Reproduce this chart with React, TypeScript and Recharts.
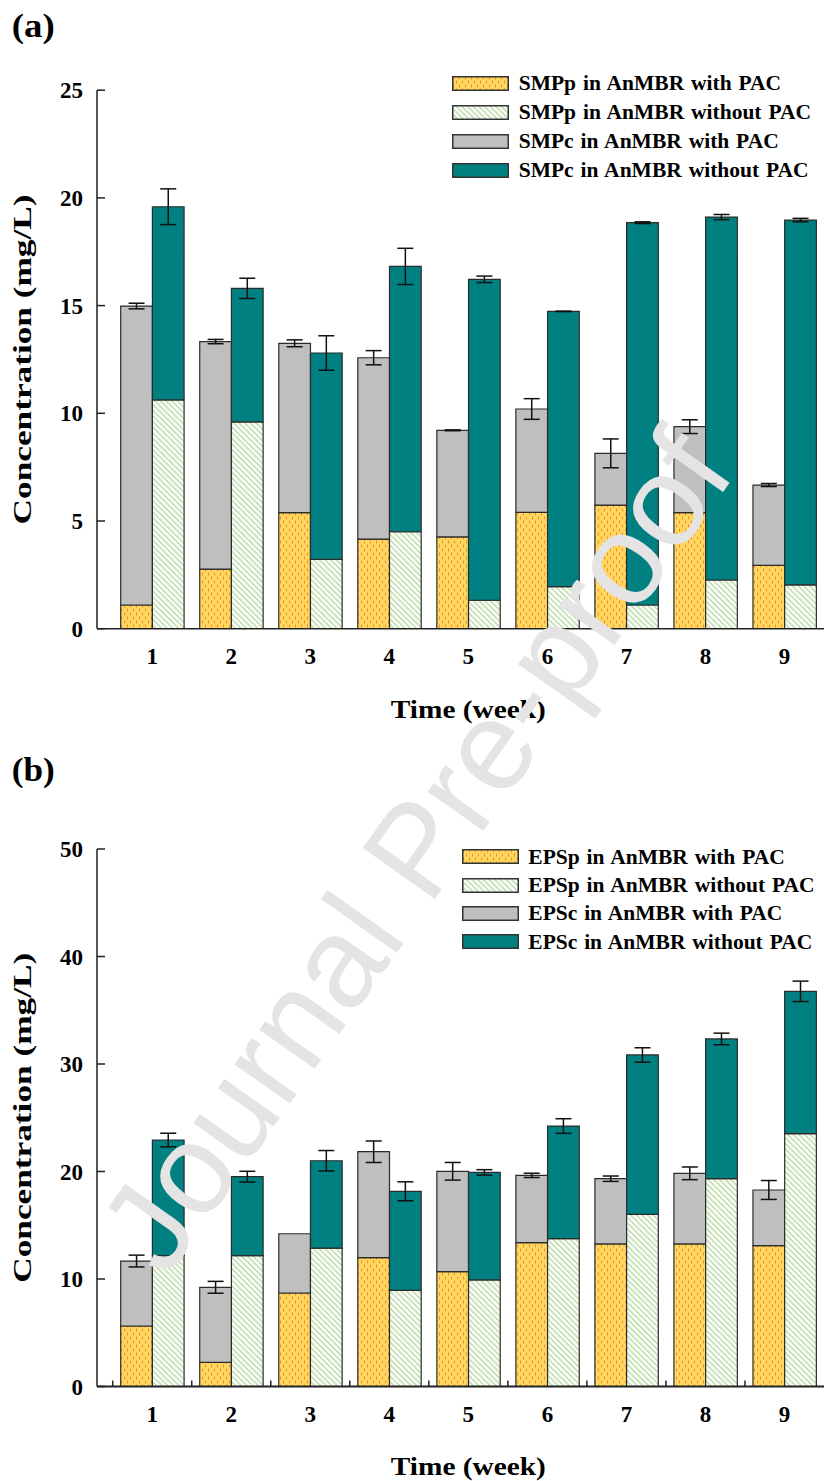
import React from 'react';
import { BarChart, Bar, XAxis, YAxis, ErrorBar, Legend, Label } from 'recharts';

const FONT = '"Liberation Serif", "Times New Roman", serif';

const weeks = ['1', '2', '3', '4', '5', '6', '7', '8', '9'];

// (a) SMP, mg/L (stacked segment sizes)
const smpProteinWithPAC = [1.1, 2.77, 5.39, 4.16, 4.26, 5.4, 5.74, 5.39, 2.94];
const smpCarbWithPAC = [13.88, 10.56, 7.86, 8.42, 4.95, 4.8, 2.4, 3.99, 3.73];
const smpProteinWithoutPAC = [10.62, 9.6, 3.22, 4.5, 1.32, 1.95, 1.1, 2.26, 2.03];
const smpCarbWithoutPAC = [8.97, 6.2, 9.58, 12.32, 14.9, 12.78, 17.75, 16.85, 16.94];
const smpErrWithPAC = [0.13, 0.1, 0.16, 0.33, 0.02, 0.48, 0.67, 0.32, 0.07];
const smpErrWithoutPAC = [0.83, 0.47, 0.8, 0.84, 0.15, 0.01, 0.04, 0.12, 0.08];
const smpTicks = [0, 5, 10, 15, 20, 25];
const smpLegend = [
  'SMPp in AnMBR with PAC',
  'SMPp in AnMBR without PAC',
  'SMPc in AnMBR with PAC',
  'SMPc in AnMBR without PAC',
];

// (b) EPS, mg/L (stacked segment sizes)
const epsProteinWithPAC = [5.63, 2.25, 8.7, 11.98, 10.68, 13.38, 13.26, 13.26, 13.1];
const epsCarbWithPAC = [6.04, 6.98, 5.51, 9.86, 9.34, 6.26, 6.07, 6.57, 5.18];
const epsProteinWithoutPAC = [12.17, 12.17, 12.88, 8.95, 9.91, 13.75, 16.02, 19.33, 23.52];
const epsCarbWithoutPAC = [10.76, 7.35, 8.12, 9.21, 10.01, 10.48, 14.82, 13.0, 13.24];
const epsErrWithPAC = [0.55, 0.55, 0, 1.0, 0.82, 0.2, 0.25, 0.59, 0.88];
const epsErrWithoutPAC = [0.63, 0.5, 0.95, 0.88, 0.25, 0.68, 0.67, 0.54, 0.95];
const epsTicks = [0, 10, 20, 30, 40, 50];
const epsLegend = [
  'EPSp in AnMBR with PAC',
  'EPSp in AnMBR without PAC',
  'EPSc in AnMBR with PAC',
  'EPSc in AnMBR without PAC',
];

const xTitle = 'Time (week)';
const yTitle = 'Concentration (mg/L)';

const buildRows = (pW: number[], cW: number[], pWo: number[], cWo: number[], eW: number[], eWo: number[]) =>
  weeks.map((w, i) => ({
    week: w,
    pWith: pW[i],
    cWith: cW[i],
    pWithout: pWo[i],
    cWithout: cWo[i],
    errWith: eW[i],
    errWithout: eWo[i],
  }));

const smpData = buildRows(smpProteinWithPAC, smpCarbWithPAC, smpProteinWithoutPAC, smpCarbWithoutPAC, smpErrWithPAC, smpErrWithoutPAC);
const epsData = buildRows(epsProteinWithPAC, epsCarbWithPAC, epsProteinWithoutPAC, epsCarbWithoutPAC, epsErrWithPAC, epsErrWithoutPAC);

const FILL_P_WITH = 'url(#patOrange)';
const FILL_P_WITHOUT = 'url(#patGreen)';
const FILL_C_WITH = '#bfbfbf';
const FILL_C_WITHOUT = '#008080';
const legendFills = [FILL_P_WITH, FILL_P_WITHOUT, FILL_C_WITH, FILL_C_WITHOUT];

const CHART_W = 834;
const Y_AXIS_W = 97;
const RIGHT_MARGIN = 10;
const Y_TICK_MARGIN = 14;
const X_TICK_MARGIN = 35;
const X_PAD_LEFT = 15.7;
const HALF_BAND_FALLBACK = (CHART_W - RIGHT_MARGIN - Y_AXIS_W - X_PAD_LEFT) / weeks.length / 2;

const YTick = (props: any) => {
  const { x, y, payload } = props;
  const axisX = x + Y_TICK_MARGIN;
  return (
    <g>
      <line x1={axisX} x2={axisX + 8} y1={y} y2={y} stroke="#222" strokeWidth={1.5} />
      <text x={x} y={y} dy={8} textAnchor="end" fontFamily={FONT} fontWeight="bold" fontSize={23} fill="#000">
        {payload.value}
      </text>
    </g>
  );
};

const makeXTick = (showMarks: boolean) => (props: any) => {
  const { x, y, payload } = props;
  const axisY = y - X_TICK_MARGIN;
  const half = payload && typeof payload.offset === 'number' && payload.offset > 0 ? payload.offset : HALF_BAND_FALLBACK;
  return (
    <g>
      {showMarks ? (
        <line x1={x - half} x2={x - half} y1={axisY} y2={axisY - 6} stroke="#222" strokeWidth={1.5} />
      ) : null}
      <text x={x} y={y} textAnchor="middle" fontFamily={FONT} fontWeight="bold" fontSize={23} fill="#000">
        {payload.value}
      </text>
    </g>
  );
};

const renderXTitle = (props: any) => {
  const vb = props.viewBox || {};
  const cx = vb.x + X_PAD_LEFT + (vb.width - X_PAD_LEFT) / 2;
  const y = vb.y + 88.8;
  return (
    <text x={cx} y={y} textAnchor="middle" fontFamily={FONT} fontWeight="bold" fontSize={26} fill="#000"
      textLength={155} lengthAdjust="spacingAndGlyphs">
      {xTitle}
    </text>
  );
};

const renderYTitle = (props: any) => {
  const vb = props.viewBox || {};
  const cy = vb.y + vb.height / 2;
  const bx = 31;
  return (
    <text x={bx} y={cy} transform={`rotate(-90, ${bx}, ${cy})`} textAnchor="middle" fontFamily={FONT}
      fontWeight="bold" fontSize={26} fill="#000" textLength={330} lengthAdjust="spacingAndGlyphs">
      {yTitle}
    </text>
  );
};

const LegendBox = ({ labels, rowH, gap }: { labels: string[]; rowH: number; gap: number }) => (
  <div style={{ display: 'flex', flexDirection: 'column' }}>
    {labels.map((lab, i) => (
      <div key={lab} style={{ display: 'flex', alignItems: 'center', height: rowH }}>
        <svg width={57} height={15} style={{ display: 'block', flex: 'none' }}>
          <rect x={0.75} y={0.75} width={55.5} height={13.5} fill={legendFills[i]} stroke="#333" strokeWidth={1.5} />
        </svg>
        <span style={{ marginLeft: gap, fontFamily: FONT, fontWeight: 'bold', fontSize: 21.5, color: '#000', whiteSpace: 'nowrap', lineHeight: `${rowH}px`, wordSpacing: 1.5 }}>
          {lab}
        </span>
      </div>
    ))}
  </div>
);

type PanelProps = {
  data: any[];
  height: number;
  marginTop: number;
  marginBottom: number;
  yMax: number;
  ticks: number[];
  legendLabels: string[];
  legendTop: number;
  legendLeft: number;
  legendRowH: number;
  legendGap: number;
  xMarks: boolean;
  xAxisWidth: number;
};

const Panel = (p: PanelProps) => (
  <BarChart
    width={CHART_W}
    height={p.height}
    data={p.data}
    margin={{ top: p.marginTop, right: RIGHT_MARGIN, bottom: p.marginBottom, left: 0 }}
    barGap={0}
    barSize={31.7}
  >
    <XAxis
      dataKey="week"
      height={60}
      interval={0}
      padding={{ left: X_PAD_LEFT, right: 0 }}
      tickSize={0}
      tickMargin={X_TICK_MARGIN}
      tickLine={false}
      axisLine={{ stroke: '#222', strokeWidth: p.xAxisWidth }}
      tick={makeXTick(p.xMarks)}
    >
      <Label content={renderXTitle} />
    </XAxis>
    <YAxis
      type="number"
      width={Y_AXIS_W}
      domain={[0, p.yMax]}
      ticks={p.ticks}
      interval={0}
      allowDataOverflow
      tickSize={0}
      tickMargin={Y_TICK_MARGIN}
      tickLine={false}
      axisLine={{ stroke: '#222', strokeWidth: 1.5 }}
      tick={YTick}
    >
      <Label content={renderYTitle} />
    </YAxis>
    <Legend
      layout="vertical"
      align="center"
      verticalAlign="middle"
      wrapperStyle={{ top: p.legendTop, left: p.legendLeft, width: 380, height: 'auto' }}
      content={() => <LegendBox labels={p.legendLabels} rowH={p.legendRowH} gap={p.legendGap} />}
    />
    <Bar dataKey="pWith" stackId="with" fill={FILL_P_WITH} stroke="#2b2b2b" strokeWidth={1.2} isAnimationActive={false} />
    <Bar dataKey="cWith" stackId="with" fill={FILL_C_WITH} stroke="#2b2b2b" strokeWidth={1.2} isAnimationActive={false}>
      <ErrorBar dataKey="errWith" width={8} stroke="#111" strokeWidth={1.5} direction="y" />
    </Bar>
    <Bar dataKey="pWithout" stackId="without" fill={FILL_P_WITHOUT} stroke="#2b2b2b" strokeWidth={1.2} isAnimationActive={false} />
    <Bar dataKey="cWithout" stackId="without" fill={FILL_C_WITHOUT} stroke="#2b2b2b" strokeWidth={1.2} isAnimationActive={false}>
      <ErrorBar dataKey="errWithout" width={8} stroke="#111" strokeWidth={1.5} direction="y" />
    </Bar>
  </BarChart>
);

export default function App() {
  return (
    <div style={{ position: 'absolute', left: 0, top: 0, width: 834, height: 1481, background: '#fff', overflow: 'hidden' }}>
      <svg width={0} height={0} style={{ position: 'absolute' }}>
        <defs>
          <pattern id="patOrange" patternUnits="userSpaceOnUse" width={6} height={8}>
            <rect width={6} height={8} fill="#ffd75e" />
            <line x1={1.5} y1={0.5} x2={1.5} y2={3.5} stroke="#f28a30" strokeWidth={1} />
            <line x1={4.5} y1={4.5} x2={4.5} y2={7.5} stroke="#f28a30" strokeWidth={1} />
          </pattern>
          <pattern id="patGreen" patternUnits="userSpaceOnUse" width={4} height={4} patternTransform="rotate(45)">
            <rect width={4} height={4} fill="#ffffff" />
            <line x1={0} y1={2} x2={4} y2={2} stroke="#b4d89c" strokeWidth={1.4} />
          </pattern>
        </defs>
      </svg>

      <div style={{ position: 'absolute', left: 0, top: 0 }}>
        <Panel
          data={smpData}
          height={740}
          marginTop={90.2}
          marginBottom={51.3}
          yMax={25}
          ticks={smpTicks}
          legendLabels={smpLegend}
          legendTop={68.8}
          legendLeft={451.7}
          legendRowH={29}
          legendGap={10}
          xMarks={false}
          xAxisWidth={1.5}
        />
      </div>
      <div style={{ position: 'absolute', left: 0, top: 740 }}>
        <Panel
          data={epsData}
          height={741}
          marginTop={109}
          marginBottom={34.5}
          yMax={50}
          ticks={epsTicks}
          legendLabels={epsLegend}
          legendTop={102.5}
          legendLeft={462.3}
          legendRowH={28.4}
          legendGap={9}
          xMarks={true}
          xAxisWidth={2}
        />
      </div>

      <svg width={834} height={1481} style={{ position: 'absolute', left: 0, top: 0, pointerEvents: 'none' }}>
        <text x={11.7} y={37} fontFamily={FONT} fontWeight="bold" fontSize={34} fill="#000" textLength={43} lengthAdjust="spacingAndGlyphs">(a)</text>
        <text x={11.7} y={781} fontFamily={FONT} fontWeight="bold" fontSize={34} fill="#000" textLength={43} lengthAdjust="spacingAndGlyphs">(b)</text>
        <text
          x={415}
          y={850}
          transform="rotate(-54.7, 415, 850)"
          textAnchor="middle"
          dominantBaseline="central"
          fontFamily='"Liberation Sans", Arial, sans-serif'
          fontSize={128}
          fill="#e4e4e4"
        >
          Journal Pre-proof
        </text>
      </svg>
    </div>
  );
}
